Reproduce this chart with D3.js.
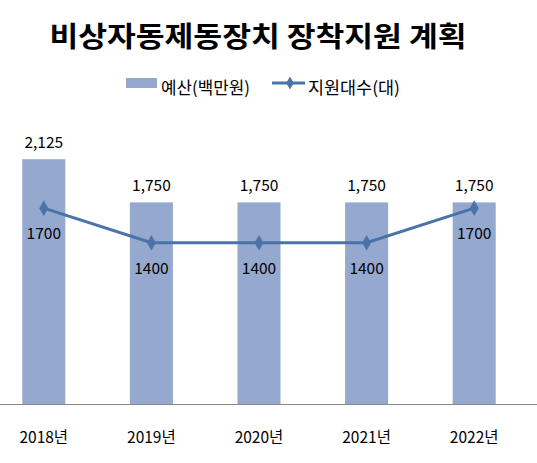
<!DOCTYPE html>
<html>
<head>
<meta charset="utf-8">
<script src="https://cdn.jsdelivr.net/npm/d3@7"></script>
<style>
  body { margin: 0; background: #fff; }
  text { font-family: "Noto Sans CJK KR", "Noto Sans", sans-serif; }
</style>
</head>
<body>
<svg id="chart" width="537" height="463"></svg>
<script>
var years = ["2018년", "2019년", "2020년", "2021년", "2022년"];
var budget = [2125, 1750, 1750, 1750, 1750];
var units = [1700, 1400, 1400, 1400, 1700];
var budgetLabels = ["2,125", "1,750", "1,750", "1,750", "1,750"];

var width = 537, height = 463;
var barColor = "#95a9cf", lineColor = "#4a73aa";

var svg = d3.select("#chart");

var x = d3.scaleBand().domain(years).range([-10, 528]).paddingInner(0.6).paddingOuter(0.3);
var y = d3.scaleLinear().domain([0, 2500]).range([404, 116]);

// 제목
svg.append("text")
    .attr("x", 258).attr("y", 47)
    .attr("text-anchor", "middle")
    .attr("font-size", 28).attr("font-weight", "bold")
    .attr("textLength", 417).attr("lengthAdjust", "spacingAndGlyphs")
    .text("비상자동제동장치 장착지원 계획");

// 범례
var legend = svg.append("g");
legend.append("rect").attr("x", 126).attr("y", 78).attr("width", 31).attr("height", 10).attr("fill", barColor);
legend.append("text").attr("x", 161).attr("y", 94).attr("font-size", 17)
    .attr("textLength", 89).attr("lengthAdjust", "spacingAndGlyphs").text("예산(백만원)");
legend.append("line").attr("x1", 272).attr("x2", 305).attr("y1", 83).attr("y2", 83)
    .attr("stroke", lineColor).attr("stroke-width", 3);
legend.append("path").attr("d", d3.symbol(d3.symbolDiamond, 50)())
    .attr("transform", "translate(290,83)").attr("fill", lineColor);
legend.append("text").attr("x", 308).attr("y", 94).attr("font-size", 17)
    .attr("textLength", 92).attr("lengthAdjust", "spacingAndGlyphs").text("지원대수(대)");

// 막대
svg.selectAll(".bar")
    .data(budget)
    .join("rect")
    .attr("class", "bar")
    .attr("x", (d, i) => x(years[i]))
    .attr("width", x.bandwidth())
    .attr("y", d => y(d))
    .attr("height", d => y(0) - y(d))
    .attr("fill", barColor);

svg.selectAll(".barlabel")
    .data(budget)
    .join("text")
    .attr("class", "barlabel")
    .attr("x", (d, i) => x(years[i]) + x.bandwidth() / 2)
    .attr("y", d => y(d) - 11)
    .attr("text-anchor", "middle")
    .attr("font-size", 15.5)
    .text((d, i) => budgetLabels[i]);

// x축
svg.append("line")
    .attr("x1", 0).attr("x2", width)
    .attr("y1", y(0) + 0.5).attr("y2", y(0) + 0.5)
    .attr("stroke", "#888").attr("stroke-width", 1);

svg.selectAll(".xlabel")
    .data(years)
    .join("text")
    .attr("class", "xlabel")
    .attr("x", d => x(d) + x.bandwidth() / 2)
    .attr("y", 443)
    .attr("text-anchor", "middle")
    .attr("font-size", 15.5)
    .text(d => d);

// 선
var line = d3.line()
    .x((d, i) => x(years[i]) + x.bandwidth() / 2)
    .y(d => y(d));

svg.append("path")
    .datum(units)
    .attr("d", line)
    .attr("fill", "none")
    .attr("stroke", lineColor)
    .attr("stroke-width", 3);

svg.selectAll(".pt")
    .data(units)
    .join("path")
    .attr("class", "pt")
    .attr("d", d3.symbol(d3.symbolDiamond, 70)())
    .attr("transform", (d, i) => "translate(" + (x(years[i]) + x.bandwidth() / 2) + "," + y(d) + ")")
    .attr("fill", lineColor);

svg.selectAll(".ptlabel")
    .data(units)
    .join("text")
    .attr("class", "ptlabel")
    .attr("x", (d, i) => x(years[i]) + x.bandwidth() / 2)
    .attr("y", d => y(d) + 31)
    .attr("text-anchor", "middle")
    .attr("font-size", 15.5)
    .text(d => d);
</script>
</body>
</html>
